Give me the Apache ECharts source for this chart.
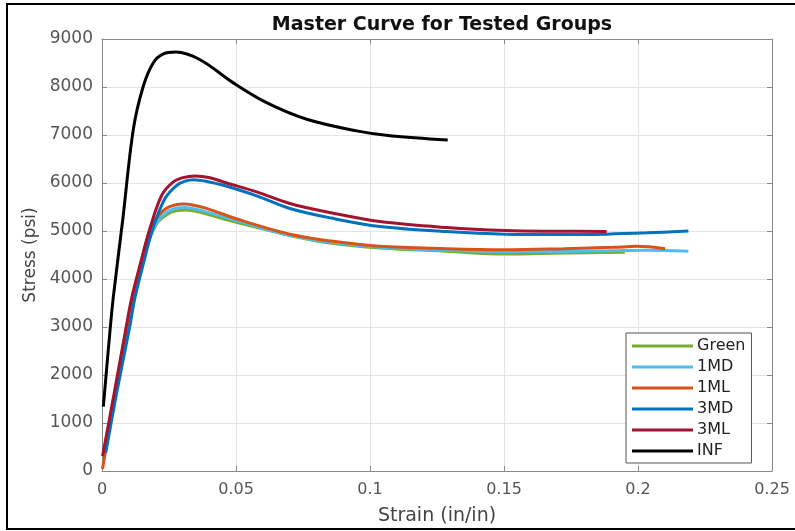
<!DOCTYPE html>
<html>
<head>
<meta charset="utf-8">
<script src="https://cdn.jsdelivr.net/npm/echarts@6/dist/echarts.min.js"></script>
<style>
  html, body { margin: 0; padding: 0; background: #fff; }
  #main { width: 795px; height: 531px; }
</style>
</head>
<body>
<div id="main"></div>
<script>
// strain (in/in) and stress (psi)
var groupNames = ["Green", "1MD", "1ML", "3MD", "3ML", "INF"];
var groupColors = ["#77AC30", "#4DBEEE", "#D95319", "#0072BD", "#A2142F", "#000000"];

var greenStrain = [0.0007, 0.0047, 0.0095, 0.0118, 0.0151, 0.0183, 0.021, 0.0243, 0.0276, 0.0316, 0.0358, 0.0515, 0.0701, 0.0855, 0.1037, 0.1286, 0.1504, 0.1721, 0.1951];
var greenStress = [268, 1548, 2993, 3613, 4377, 4913, 5196, 5347, 5419, 5436, 5398, 5161, 4907, 4745, 4645, 4577, 4521, 4542, 4556];

var md1Strain = [0.0009, 0.0049, 0.0097, 0.0119, 0.0153, 0.0183, 0.0213, 0.0246, 0.028, 0.031, 0.0354, 0.0515, 0.0701, 0.0855, 0.1037, 0.1286, 0.1504, 0.1721, 0.1908, 0.2032, 0.2188];
var md1Stress = [351, 1548, 2993, 3613, 4377, 4955, 5244, 5409, 5481, 5491, 5450, 5196, 4913, 4765, 4660, 4600, 4570, 4575, 4590, 4600, 4577];

var ml1Strain = [0.0002, 0.0045, 0.0092, 0.0113, 0.0147, 0.0179, 0.0209, 0.0239, 0.0272, 0.0303, 0.0347, 0.039, 0.0515, 0.0701, 0.0855, 0.1037, 0.1286, 0.1504, 0.1721, 0.1908, 0.1995, 0.2101];
var ml1Stress = [40, 1480, 2950, 3590, 4377, 5017, 5306, 5471, 5543, 5560, 5533, 5470, 5229, 4934, 4790, 4680, 4631, 4610, 4631, 4659, 4680, 4631];

var md3Strain = [0.0014, 0.0052, 0.0103, 0.0123, 0.0157, 0.019, 0.0235, 0.0279, 0.031, 0.0341, 0.0396, 0.0453, 0.0577, 0.0701, 0.0855, 0.1037, 0.1286, 0.1504, 0.17, 0.1883, 0.2032, 0.2188];
var md3Stress = [378, 1548, 2993, 3613, 4377, 5058, 5677, 5952, 6038, 6069, 6028, 5952, 5733, 5470, 5270, 5093, 4990, 4934, 4925, 4934, 4961, 5002];

var ml3Strain = [0.0002, 0.0043, 0.009, 0.0111, 0.0146, 0.0179, 0.0223, 0.0265, 0.0302, 0.0347, 0.0403, 0.0453, 0.0577, 0.0701, 0.0855, 0.1037, 0.1286, 0.1504, 0.17, 0.1883];
var ml3Stress = [310, 1548, 2993, 3613, 4377, 5058, 5745, 6018, 6111, 6146, 6111, 6022, 5815, 5574, 5380, 5196, 5072, 5010, 4995, 4990];

var infStrain = [0.0005, 0.003, 0.0042, 0.0078, 0.0117, 0.0154, 0.0191, 0.0225, 0.0276, 0.0366, 0.049, 0.0614, 0.0764, 0.095, 0.1075, 0.129];
var infStress = [1340, 2930, 3613, 5264, 7122, 8016, 8500, 8680, 8727, 8567, 8086, 7673, 7328, 7086, 6984, 6895];

var xTicks = [0, 0.05, 0.1, 0.15, 0.2, 0.25];
var yTicks = [0, 1000, 2000, 3000, 4000, 5000, 6000, 7000, 8000, 9000];

var strains = [greenStrain, md1Strain, ml1Strain, md3Strain, ml3Strain, infStrain];
var stresses = [greenStress, md1Stress, ml1Stress, md3Stress, ml3Stress, infStress];

var font = "DejaVu Sans";
var chart = echarts.init(document.getElementById("main"), null, { renderer: "canvas" });

var series = groupNames.map(function (name, i) {
  return {
    name: name,
    type: "line",
    xAxisIndex: 0,
    yAxisIndex: 0,
    data: strains[i].map(function (s, k) { return [s, stresses[i][k]]; }),
    showSymbol: false,
    symbol: "none",
    smooth: 0.35,
    lineStyle: { color: groupColors[i], width: 3 },
    itemStyle: { color: groupColors[i] },
    z: 2 + i
  };
});

var option = {
  animation: false,
  backgroundColor: "#fff",
  title: {
    text: "Master Curve for Tested Groups",
    left: 437,
    textAlign: "center",
    top: 11,
    textStyle: { fontFamily: font, fontSize: 19, fontWeight: "bold", color: "#111" }
  },
  grid: { left: 102, right: 23, top: 39, bottom: 56, containLabel: false },
  legend: {
    orient: "vertical",
    left: 626,
    top: 333,
    data: groupNames,
    icon: "rect",
    itemWidth: 61,
    itemHeight: 3,
    itemGap: 5,
    padding: [5, 6, 4, 6],
    backgroundColor: "#fff",
    borderColor: "#555",
    borderWidth: 1,
    borderRadius: 0,
    textStyle: { fontFamily: font, fontSize: 16, color: "#222", padding: [0, 0, 0, -1] }
  },
  xAxis: [
    {
      type: "value",
      min: xTicks[0],
      max: xTicks[xTicks.length - 1],
      interval: 0.05,
      name: "Strain (in/in)",
      nameLocation: "middle",
      nameGap: 36,
      nameTextStyle: { fontFamily: font, fontSize: 19, color: "#444" },
      axisLine: { show: true, onZero: false, lineStyle: { color: "#888", width: 1 } },
      axisTick: { show: true, inside: true, length: 5, lineStyle: { color: "#888" } },
      axisLabel: { fontFamily: font, fontSize: 16, color: "#555", margin: 11 },
      splitLine: { show: true, lineStyle: { color: "#e4e4e4", width: 1 } }
    },
    {
      type: "value",
      position: "top",
      min: xTicks[0],
      max: xTicks[xTicks.length - 1],
      interval: 0.05,
      axisLine: { show: true, onZero: false, lineStyle: { color: "#888", width: 1 } },
      axisTick: { show: true, inside: true, length: 5, lineStyle: { color: "#888" } },
      axisLabel: { show: false },
      splitLine: { show: false }
    }
  ],
  yAxis: [
    {
      type: "value",
      min: yTicks[0],
      max: yTicks[yTicks.length - 1],
      interval: 1000,
      name: "Stress (psi)",
      nameLocation: "middle",
      nameGap: 62,
      nameTextStyle: { fontFamily: font, fontSize: 17, color: "#444" },
      axisLine: { show: true, onZero: false, lineStyle: { color: "#888", width: 1 } },
      axisTick: { show: true, inside: true, length: 5, lineStyle: { color: "#888" } },
      axisLabel: {
        fontFamily: font, fontSize: 17, color: "#555", margin: 9,
        formatter: function (v) { return String(v); }
      },
      splitLine: { show: true, lineStyle: { color: "#e4e4e4", width: 1 } }
    },
    {
      type: "value",
      position: "right",
      min: yTicks[0],
      max: yTicks[yTicks.length - 1],
      interval: 1000,
      axisLine: { show: true, onZero: false, lineStyle: { color: "#888", width: 1 } },
      axisTick: { show: true, inside: true, length: 5, lineStyle: { color: "#888" } },
      axisLabel: { show: false },
      splitLine: { show: false }
    }
  ],
  graphic: [
    {
      type: "rect",
      silent: true,
      z: 100,
      shape: { x: 7, y: 4, width: 800, height: 525 },
      style: { fill: null, stroke: "#000", lineWidth: 2 }
    }
  ],
  series: series
};

chart.setOption(option);
</script>
</body>
</html>
